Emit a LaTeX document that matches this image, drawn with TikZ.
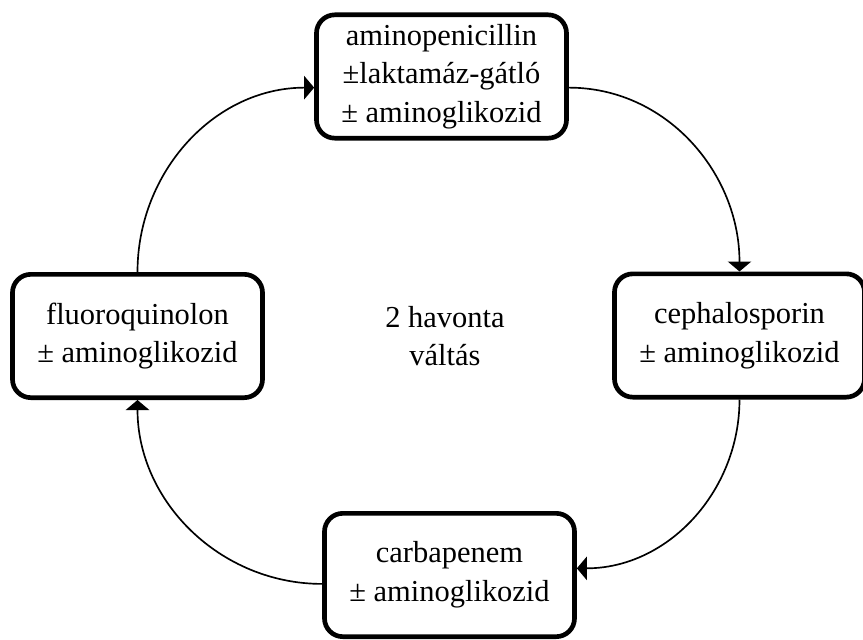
\documentclass[tikz,border=0pt]{standalone}
\usepackage{fontspec}
\setmainfont{Liberation Serif}
\usetikzlibrary{arrows.meta}

\begin{document}
\begin{tikzpicture}[x=0.03cm,y=0.03cm,
    every node/.style={font=\fontsize{26}{33}\selectfont,align=center}]

      \useasboundingbox (0,0) rectangle (863,-639);

      \begin{scope}[every node/.style={draw,rounded corners=0.55cm,line width=0.14cm,
          font=\fontsize{26}{33}\selectfont,align=center,
          minimum width=7.5cm,minimum height=3.7cm}]
        \node (ap)   at (441.5,-76.5)  {aminopenicillin\\±laktamáz-gátló\\± aminoglikozid};
        \node (ceph) at (739.5,-335.5) {cephalosporin\\± aminoglikozid};
        \node (carb) at (449.5,-575)   {carbapenem\\± aminoglikozid};
        \node (fq)   at (137.5,-336)   {fluoroquinolon\\± aminoglikozid};
      \end{scope}

      \node (mid) at (445,-336) {2 havonta\\váltás};

      \begin{scope}[every edge/.style={draw,line width=0.05cm,
          -{Triangle[width=0.7cm,length=0.3cm]}}]
        \path (ap.-5)    edge[out=0,in=90]    (ceph.north);
        \path (ceph.south) edge[out=-90,in=0]   (carb.3);
        \path (carb.184) edge[out=180,in=-90] (fq.south);
        \path (fq.north) edge[out=90,in=180]  (ap.185);
      \end{scope}

    \end{tikzpicture}
\end{document}
